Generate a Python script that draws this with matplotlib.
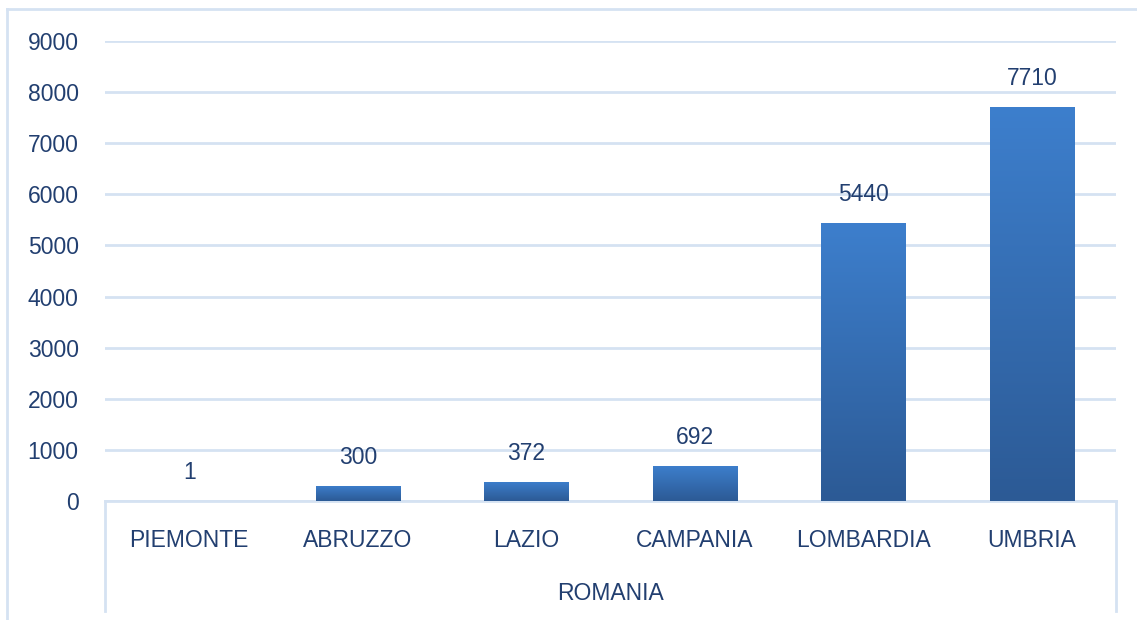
import numpy as np
import matplotlib
matplotlib.use("Agg")
import matplotlib.pyplot as plt
from matplotlib.lines import Line2D
from matplotlib.colors import LinearSegmentedColormap

regioni = ['PIEMONTE', 'ABRUZZO', 'LAZIO', 'CAMPANIA', 'LOMBARDIA', 'UMBRIA']
valori = [1, 300, 372, 692, 5440, 7710]
gruppo = 'ROMANIA'
yticks = [0, 1000, 2000, 3000, 4000, 5000, 6000, 7000, 8000, 9000]

plt.rcParams['font.family'] = ['Liberation Sans', 'DejaVu Sans']
txt_col = '#223f70'
grid_col = '#d5e2f2'

fig = plt.figure(figsize=(11.37, 6.2), dpi=100)
ax = fig.add_axes([105/1137, 1-501/620, (1116-105)/1137, 460/620])

x = np.arange(len(regioni))
bars = ax.bar(x, valori, width=0.5, color='none', edgecolor='none', zorder=3)

# gradiente per ogni barra
cmap = LinearSegmentedColormap.from_list('blu', ['#2c5a95', '#3d7fcd'])
grad = np.linspace(0, 1, 256).reshape(-1, 1)
for b in bars:
    x0, y0 = b.get_x(), b.get_y()
    w, h = b.get_width(), b.get_height()
    if h <= 0:
        continue
    im = ax.imshow(grad, cmap=cmap, origin='lower', aspect='auto',
                   extent=[x0, x0 + w, y0, y0 + h], zorder=3)
    im.set_clip_path(b)

for xi, v in zip(x, valori):
    ax.annotate(str(v), (xi, v), xytext=(0, 17), textcoords='offset pixels',
                ha='center', va='bottom', fontsize=16.5, color=txt_col)

ax.set_xlim(-0.5, len(regioni) - 0.5)
ax.set_ylim(0, 9000)
ax.set_yticks(yticks)
ax.set_xticks(x)
ax.set_xticklabels(regioni)
ax.tick_params(axis='x', length=0, pad=20, labelsize=16.5, labelcolor=txt_col)
ax.tick_params(axis='y', length=0, pad=19, labelsize=16.5, labelcolor=txt_col)
ax.grid(axis='y', color=grid_col, linewidth=2)
ax.set_axisbelow(True)
for s in ['top', 'right', 'left']:
    ax.spines[s].set_visible(False)
ax.spines['bottom'].set_color(grid_col)
ax.spines['bottom'].set_linewidth(2)

# etichetta di gruppo e separatori
ax.text(0.5, -0.2, gruppo, transform=ax.transAxes, ha='center', va='center',
        fontsize=16.5, color=txt_col)
for xa in [0, 1]:
    ax.add_line(Line2D([xa, xa], [0, -0.239], transform=ax.transAxes,
                       color=grid_col, linewidth=2, clip_on=False))

# cornice esterna
fig.add_artist(Line2D([7/1137, 7/1137], [0, 1-9/620], color=grid_col, linewidth=2))
fig.add_artist(Line2D([7/1137, 1], [1-9/620, 1-9/620], color=grid_col, linewidth=2))

fig.savefig('out.png', dpi=100, facecolor='white')
